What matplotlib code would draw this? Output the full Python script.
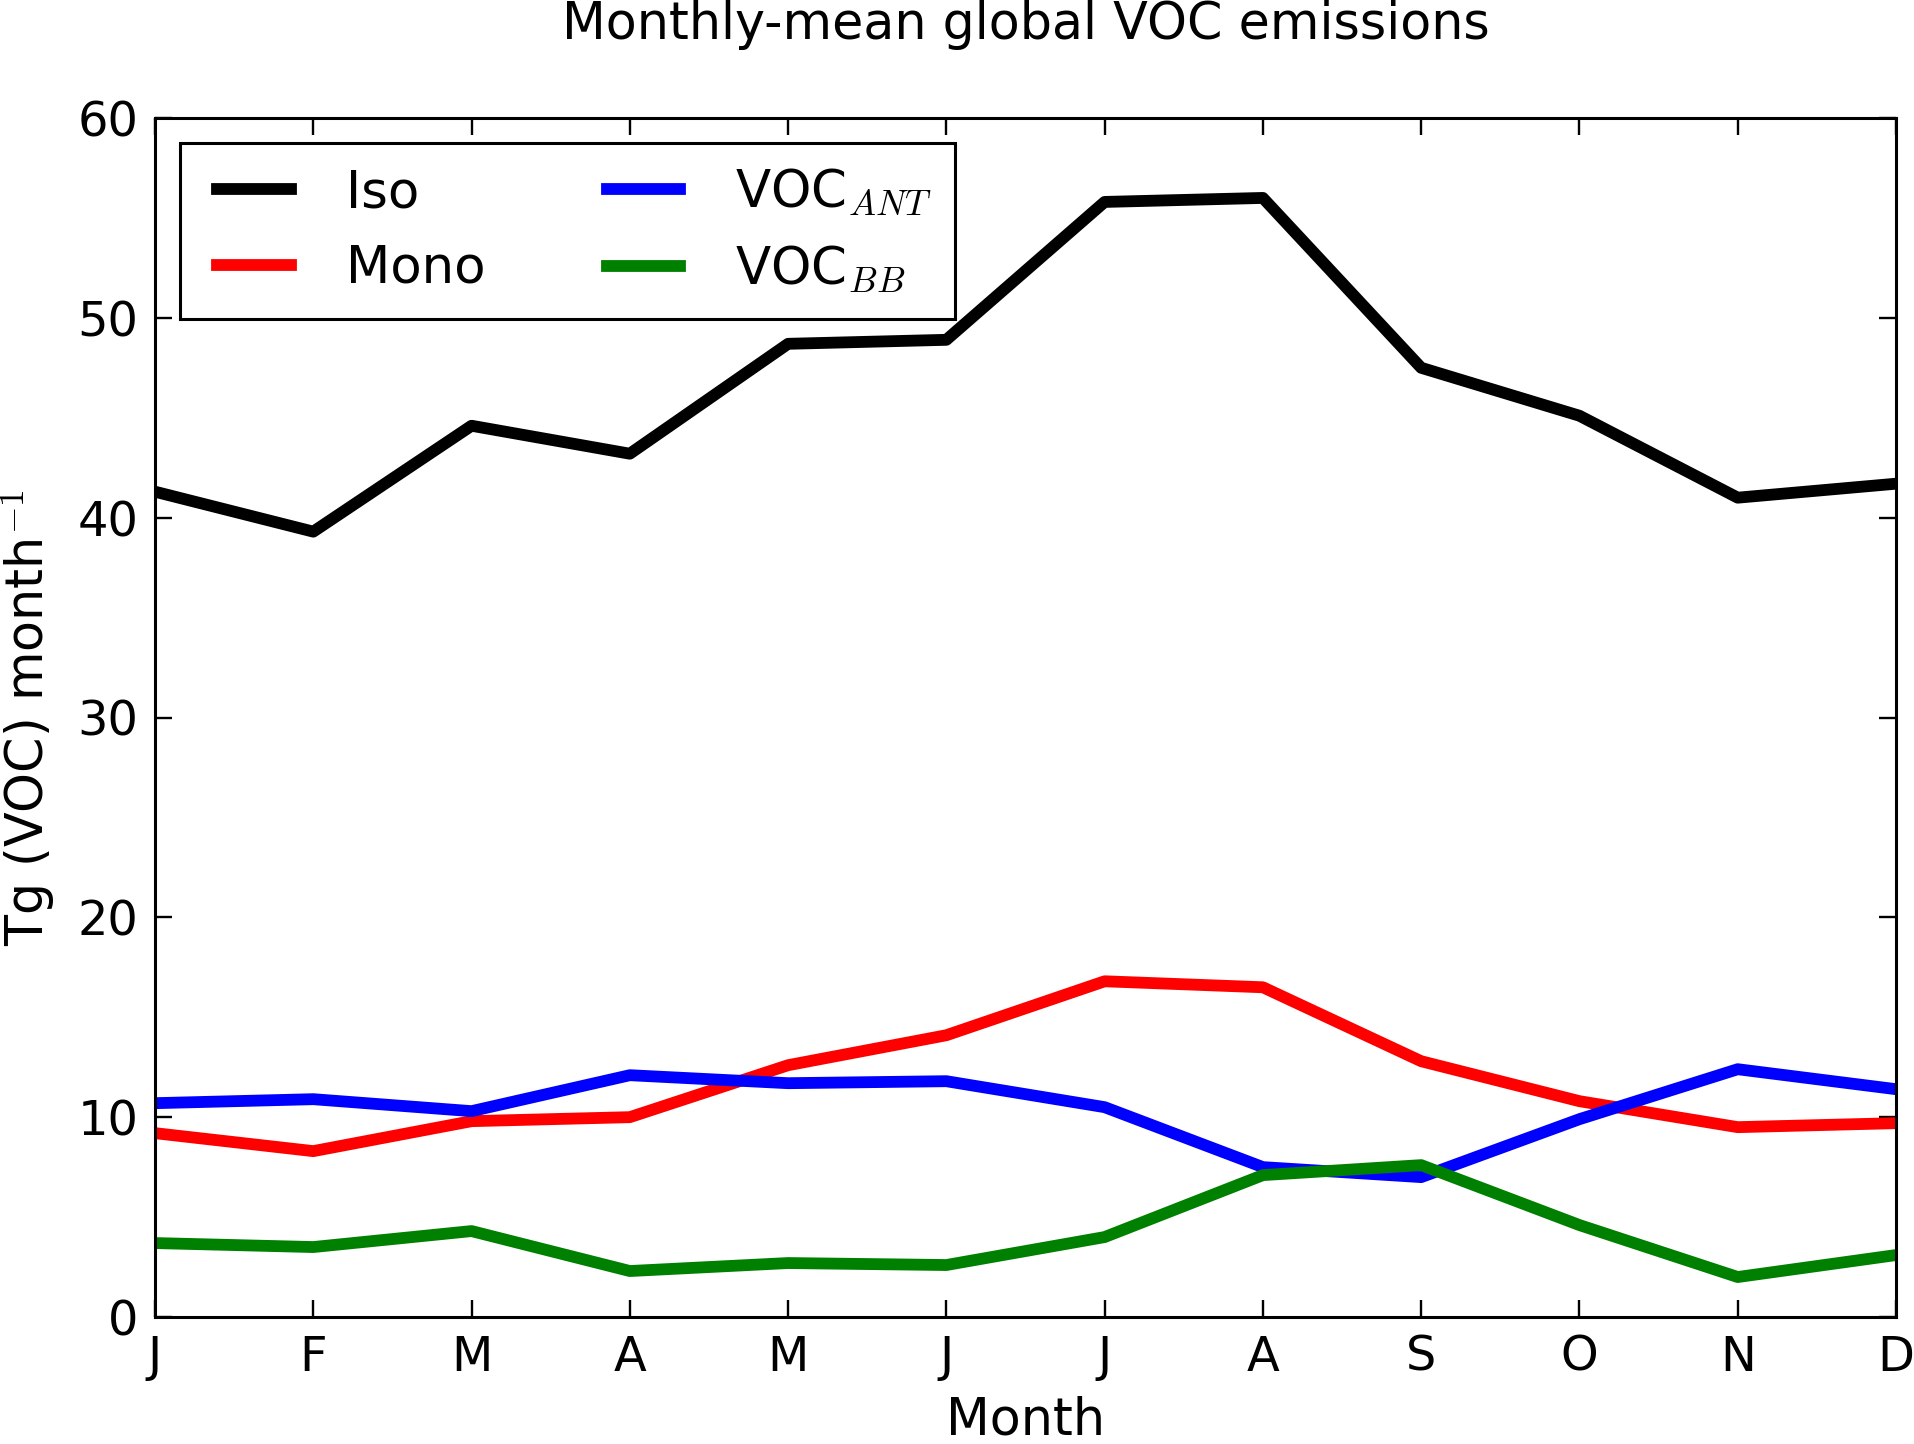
import numpy as np
import matplotlib
matplotlib.use("Agg")
import matplotlib.pyplot as plt
from matplotlib.lines import Line2D
from matplotlib.legend_handler import HandlerLine2D

# values (Tg per month)
months = ["J", "F", "M", "A", "M", "J", "J", "A", "S", "O", "N", "D"]
iso = [41.3, 39.3, 44.6, 43.2, 48.7, 48.9, 55.8, 56.0, 47.5, 45.1, 41.0, 41.7]
mono = [9.2, 8.3, 9.8, 10.0, 12.6, 14.1, 16.8, 16.5, 12.8, 10.8, 9.5, 9.7]
voc_ant = [10.7, 10.9, 10.3, 12.1, 11.7, 11.8, 10.5, 7.5, 7.0, 9.9, 12.4, 11.4]
voc_bb = [3.7, 3.5, 4.3, 2.3, 2.7, 2.6, 4.0, 7.1, 7.6, 4.6, 2.0, 3.1]

plt.rcParams['font.family'] = ['DejaVu Sans']
plt.rcParams['mathtext.fontset'] = 'cm'
fs = 34.5       # tick labels
fs_lab = 36.5   # axis labels and title
fs_leg = 37


def main():
    fig = plt.figure(figsize=(19.15, 14.44), dpi=100)
    ax = fig.add_axes([155 / 1915, 1 - 1317 / 1444,
                       (1896 - 155) / 1915, (1317 - 118) / 1444])
    x = np.arange(len(months))
    lw = 8.5
    ax.plot(x, iso, color='k', lw=lw, label='Iso')
    ax.plot(x, mono, color='r', lw=lw, label='Mono')
    ax.plot(x, voc_ant, color='b', lw=lw, label=r'VOC$_{ANT}$')
    ax.plot(x, voc_bb, color='g', lw=lw, label=r'VOC$_{BB}$')

    ax.set_xlim(0, 11)
    ax.set_ylim(0, 60)
    ax.set_xticks(x)
    ax.set_xticklabels(months)
    ax.set_yticks(np.arange(0, 61, 10))
    ax.tick_params(direction='in', length=12.5, width=1.7, top=True,
                   right=True, labelsize=fs, pad=12)
    for sp in ax.spines.values():
        sp.set_linewidth(2.2)

    ax.set_xlabel('Month', fontsize=fs_lab, labelpad=11)
    ax.set_ylabel(r'Tg (VOC) month$^{-1}$', fontsize=fs_lab, labelpad=15)
    ax.set_title('Monthly-mean global VOC emissions', fontsize=fs_lab, pad=57)

    # old-style legend: handle lines inset a little from the handle box
    leg = ax.legend(loc='upper left', ncol=2, fontsize=fs_leg, fancybox=False,
                    framealpha=1, edgecolor='k', borderaxespad=0.49,
                    handlelength=1.974, handletextpad=0.8,
                    columnspacing=2.09, borderpad=0.45, labelspacing=0.5,
                    handler_map={Line2D: HandlerLine2D(marker_pad=0.268,
                                                       numpoints=2)})
    leg.get_frame().set_linewidth(2.2)

    fig.savefig('out.png', dpi=100)


if __name__ == '__main__':
    main()
